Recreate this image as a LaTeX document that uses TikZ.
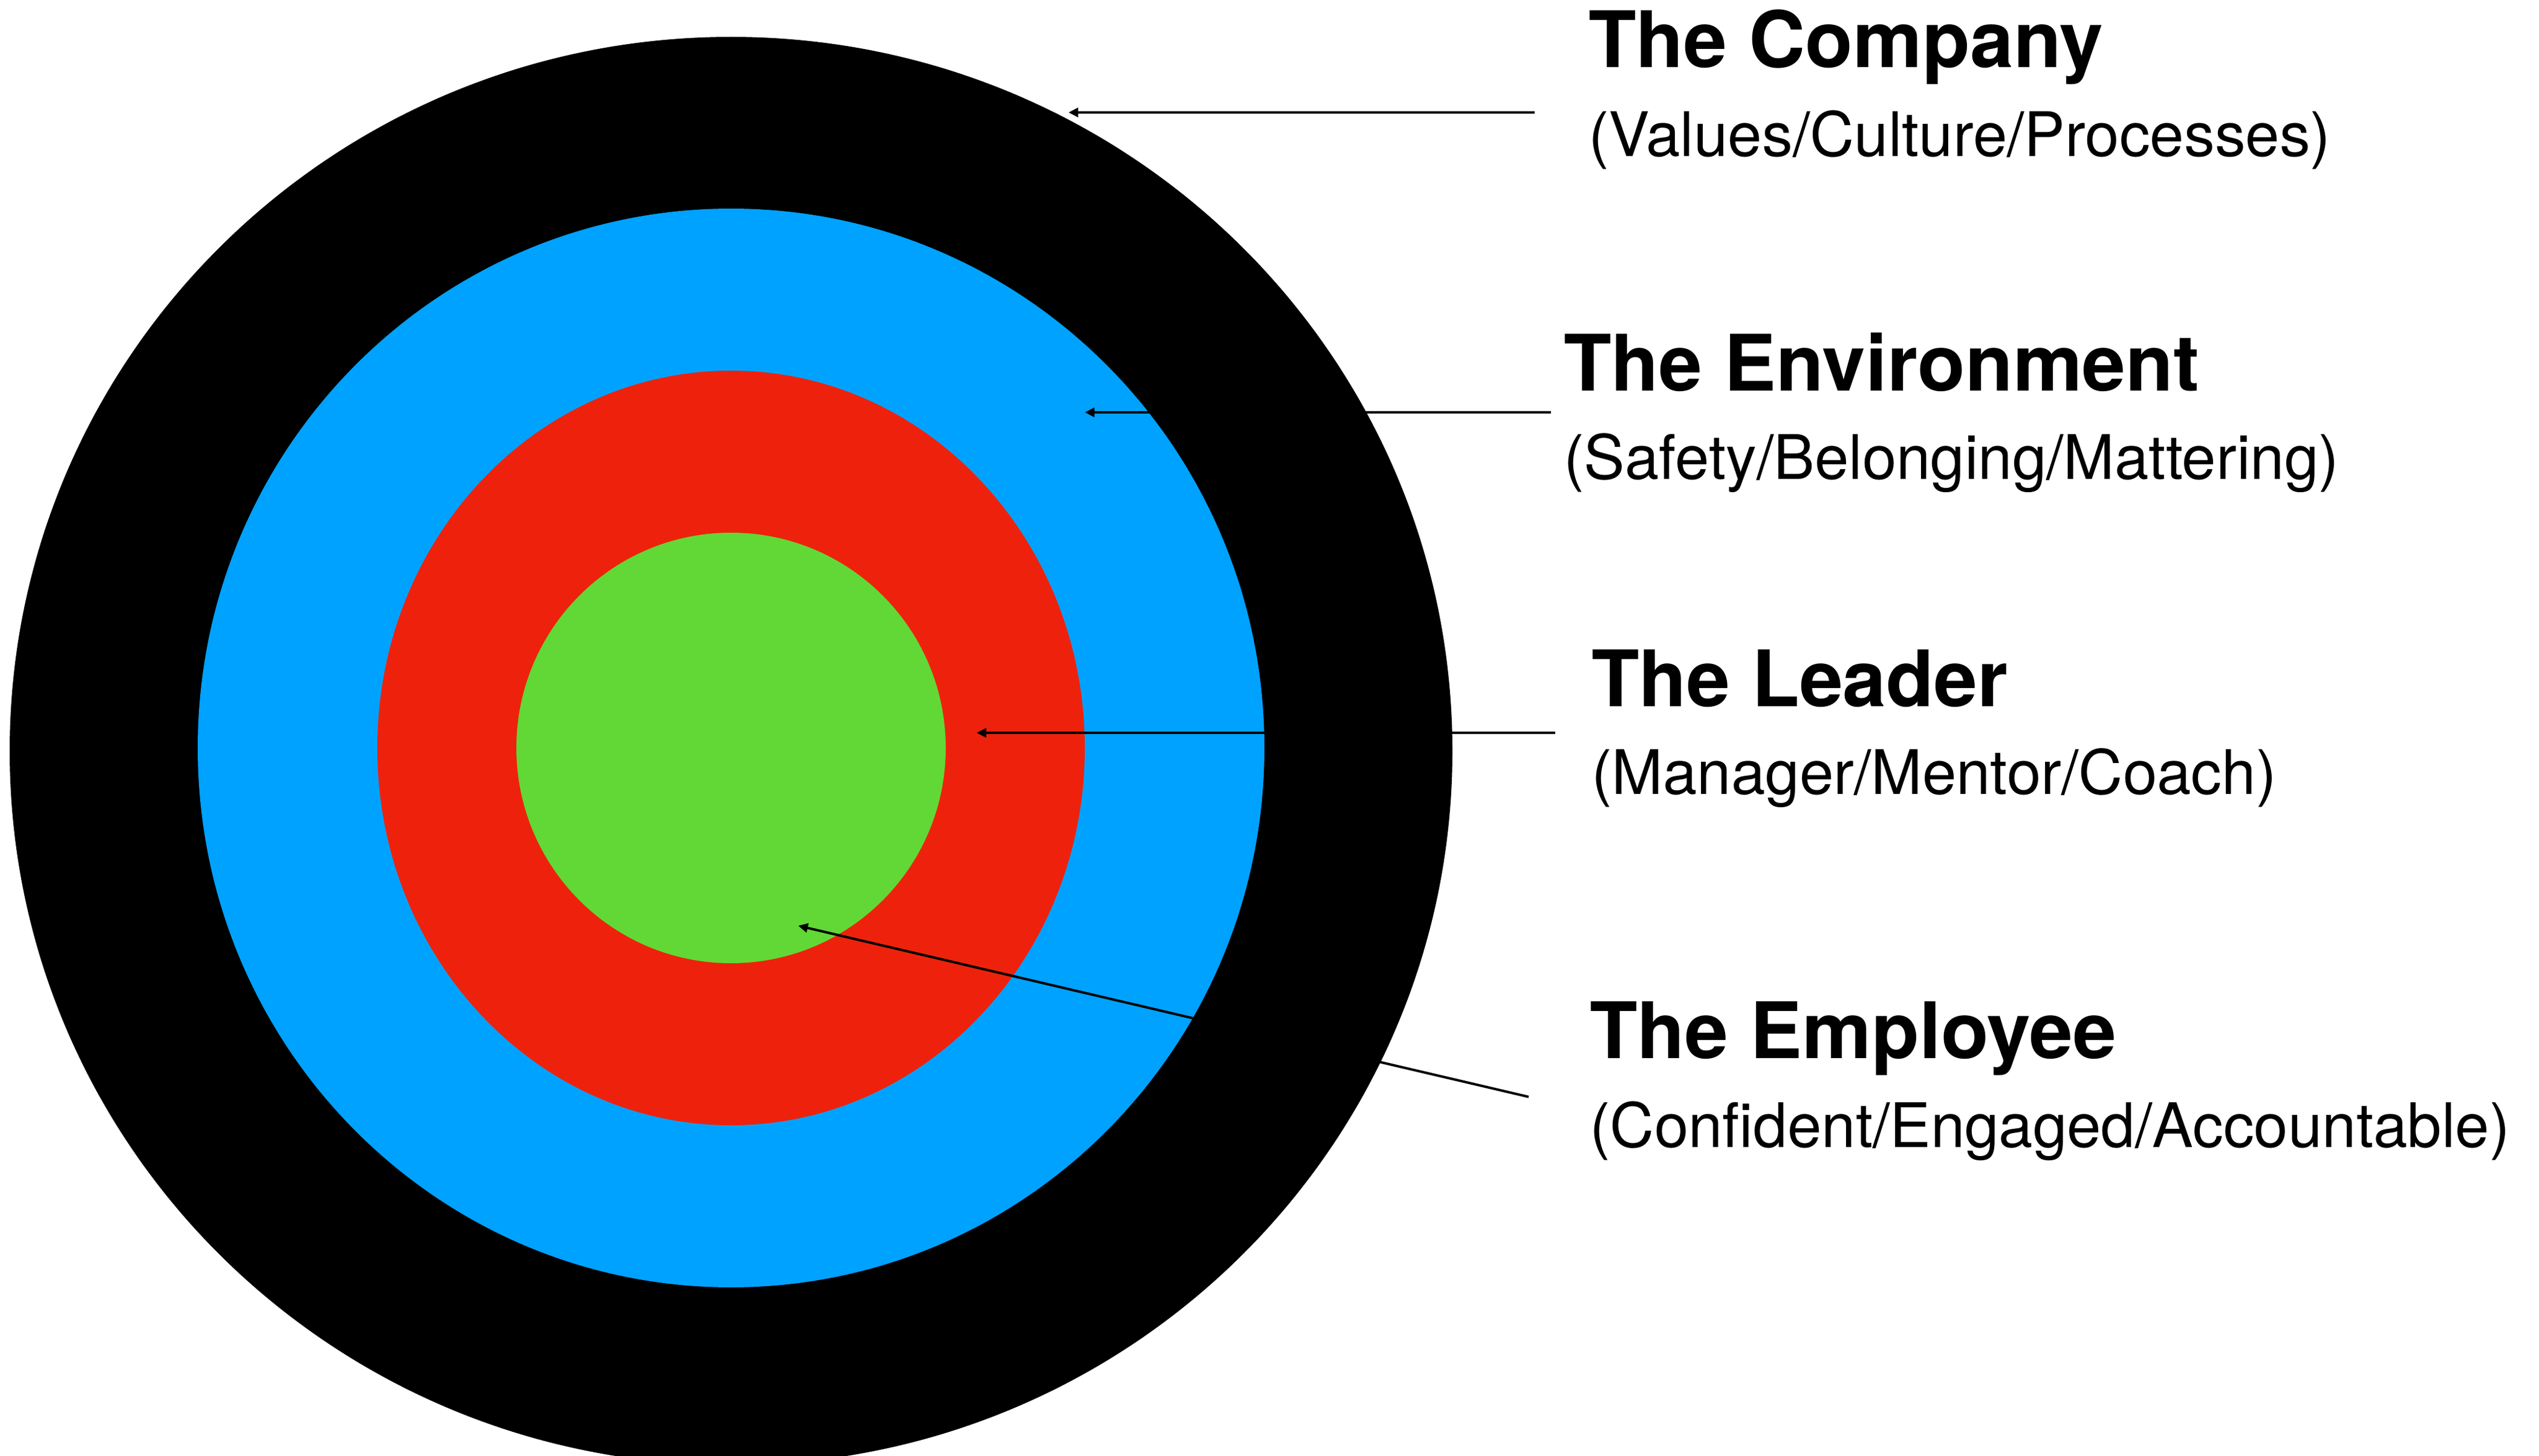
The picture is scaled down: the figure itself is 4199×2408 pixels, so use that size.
\documentclass[tikz,border=0pt]{standalone}
\usepackage{fontspec}
\setmainfont{TeX Gyre Heros}
\usetikzlibrary{arrows.meta}
\definecolor{ringblack}{HTML}{000000}
\definecolor{ringblue}{HTML}{00A2FF}
\definecolor{ringred}{HTML}{EE220C}
\definecolor{ringgreen}{HTML}{61D836}
\tikzset{
  pointer/.style={draw=black, line width=4pt, -{Triangle[length=16pt,width=15pt]}},
  titletext/.style={anchor=base west, inner sep=0pt, outer sep=0pt, font=\bfseries\fontsize{129}{150}\selectfont},
  subtext/.style={anchor=base west, inner sep=0pt, outer sep=0pt, font=\fontsize{101.5}{120}\selectfont}
}
\begin{document}
\begin{tikzpicture}[x=1pt,y=-1pt]
\useasboundingbox (0,0) rectangle (4199,2408);
\clip (0,0) rectangle (4199,2408);
% rings
\fill[ringblack] (1209,1242) ellipse [x radius=1193pt, y radius=1181pt];
\fill[ringblue]  (1209,1237) ellipse [x radius=882pt, y radius=892pt];
\fill[ringred]   (1209,1237) ellipse [x radius=585pt, y radius=624pt];
\fill[ringgreen] (1209,1237) ellipse [x radius=355pt, y radius=356pt];
% labels
\node[titletext] (tcomp) at (2627,112) {The Company};
\node[subtext]   (scomp) at (2627,259) {(Values/Culture/Processes)};
\node[titletext] (tenv) at (2586,646) {The Environment};
\node[subtext]   (senv) at (2586,792) {(Safety/Belonging/Mattering)};
\node[titletext] (tlead) at (2632,1168) {The Leader};
\node[subtext]   (slead) at (2632,1313) {(Manager/Mentor/Coach)};
\node[titletext] (temp) at (2629,1750) {The Employee};
\node[subtext]   (semp) at (2629,1897) {(Confident/Engaged/Accountable)};
% connector ends
\coordinate (compstart) at (2538,186);
\coordinate (compend) at (1767,186);
\coordinate (envstart) at (2565,682);
\coordinate (envend) at (1794,682);
\coordinate (leadstart) at (2572,1212);
\coordinate (leadend) at (1615,1212);
\coordinate (empstart) at (2528,1814);
\coordinate (empend) at (1320,1531);
\draw[pointer] (compstart) -- (compend);
\draw[pointer] (envstart) -- (envend);
\draw[pointer] (leadstart) -- (leadend);
\draw[pointer] (empstart) -- (empend);
\end{tikzpicture}
\end{document}
